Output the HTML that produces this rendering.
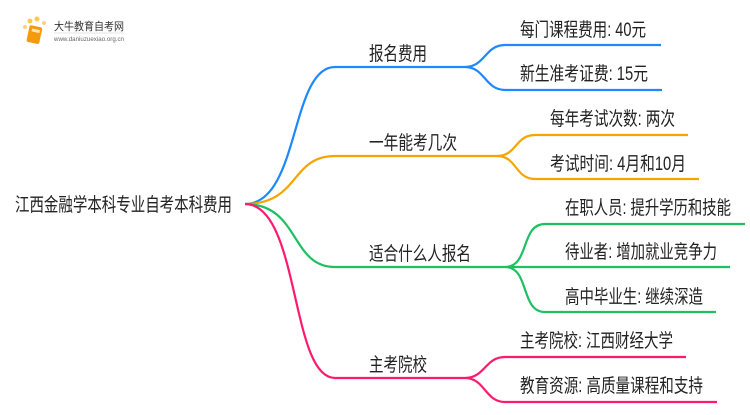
<!DOCTYPE html>
<html><head><meta charset="utf-8"><style>
body{margin:0;background:#fff;width:750px;height:410px;overflow:hidden}
text{font-family:"Liberation Sans","Noto Sans CJK SC",sans-serif;font-size:19px;fill:#222}
</style></head><body>
<svg width="750" height="410" xmlns="http://www.w3.org/2000/svg">
<g fill="none" stroke-width="2.2">
<path stroke="#1e88ff" d="M245,204 C300,204 290,67 335,67 L465,67"/>
<path stroke="#1e88ff" d="M465,67 C485,67 485,45 505,45 L661,45 M465,67 C485,67 485,90 505,90 L662,90"/>
<path stroke="#f5a500" d="M245,204 C300,204 290,156 335,156 L497,156"/>
<path stroke="#f5a500" d="M497,156 C517,156 515,135 535,135 L688,135 M497,156 C517,156 515,179 535,179 L699,179"/>
<path stroke="#1fbf62" d="M245,204 C300,204 290,267 335,267 L505,267"/>
<path stroke="#1fbf62" d="M505,267 C530,267 520,224 545,224 L745,224 M505,267 L730,267 M505,267 C530,267 520,312 545,312 L716,312"/>
<path stroke="#ff1a6e" d="M245,204 C300,204 290,378 335,378 L465,378"/>
<path stroke="#ff1a6e" d="M465,378 C485,378 485,357 505,357 L686,357 M465,378 C485,378 485,402 505,402 L717,402"/>
</g>
<text x="15" y="211" textLength="217" lengthAdjust="spacingAndGlyphs">江西金融学本科专业自考本科费用</text>
<text x="369" y="60" textLength="58" lengthAdjust="spacingAndGlyphs">报名费用</text>
<text x="369" y="149" textLength="88" lengthAdjust="spacingAndGlyphs">一年能考几次</text>
<text x="369" y="260" textLength="102" lengthAdjust="spacingAndGlyphs">适合什么人报名</text>
<text x="369" y="371" textLength="58" lengthAdjust="spacingAndGlyphs">主考院校</text>
<text x="520" y="36" textLength="126" lengthAdjust="spacingAndGlyphs">每门课程费用: 40元</text>
<text x="520" y="80" textLength="128" lengthAdjust="spacingAndGlyphs">新生准考证费: 15元</text>
<text x="550" y="125" textLength="125" lengthAdjust="spacingAndGlyphs">每年考试次数: 两次</text>
<text x="550" y="170" textLength="136" lengthAdjust="spacingAndGlyphs">考试时间: 4月和10月</text>
<text x="565" y="214" textLength="166" lengthAdjust="spacingAndGlyphs">在职人员: 提升学历和技能</text>
<text x="565" y="258" textLength="152" lengthAdjust="spacingAndGlyphs">待业者: 增加就业竞争力</text>
<text x="565" y="303" textLength="138" lengthAdjust="spacingAndGlyphs">高中毕业生: 继续深造</text>
<text x="520" y="347" textLength="153" lengthAdjust="spacingAndGlyphs">主考院校: 江西财经大学</text>
<text x="520" y="392" textLength="183" lengthAdjust="spacingAndGlyphs">教育资源: 高质量课程和支持</text>
<g>
<circle cx="25" cy="27" r="2" fill="#ffd27a"/><circle cx="30" cy="21" r="2.5" fill="#ffc94d"/><circle cx="37" cy="19" r="2.5" fill="#ffc94d"/><circle cx="44" cy="23" r="2" fill="#ffd27a"/>
<rect x="28" y="26" width="13" height="17" rx="2" fill="#f39a10" transform="rotate(12 34 34)"/>
<rect x="31" y="29" width="8" height="3" fill="#ffe7b0" transform="rotate(12 34 34)"/>
<text x="54" y="30" style="font-size:11px;fill:#333" textLength="70" lengthAdjust="spacingAndGlyphs">大牛教育自考网</text>
<line x1="54" y1="33" x2="124" y2="33" stroke="#ccc" stroke-width="0.6"/>
<text x="54" y="41" style="font-size:6px;fill:#666" textLength="70" lengthAdjust="spacingAndGlyphs">www.daniuzuexiao.org.cn</text>
</g>
</svg>
</body></html>
